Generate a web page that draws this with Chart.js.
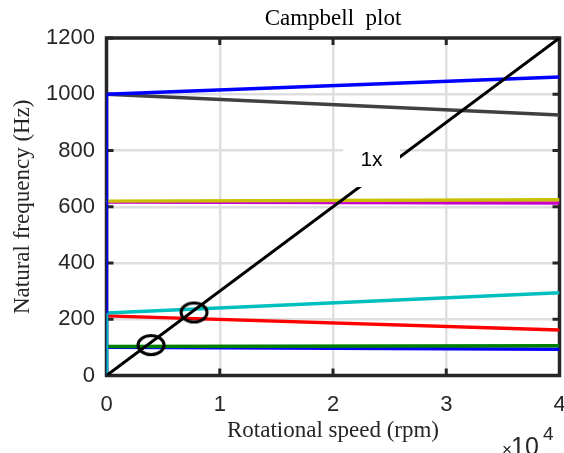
<!DOCTYPE html>
<html>
<head>
<meta charset="utf-8">
<script src="https://cdn.jsdelivr.net/npm/chart.js@4"></script>
<style>
  html, body { margin: 0; padding: 0; background: #fff; }
  canvas { display: block; }
</style>
</head>
<body>
<canvas id="campbell" width="564" height="453"></canvas>
<script>
// Speed sweep (rpm)
const speeds = [0, 40000];

// Whirl modes: natural frequency at start and end of the sweep (Hz)
const modeStart = [1000, 1000, 620, 617, 222, 212, 103, 100];
const modeEnd = [1061, 926, 625, 613, 294, 162, 106, 93];
const modeColors = ["#0000ff", "#404040", "#c8c000", "#cc00cc", "#00bfbf", "#ff0000", "#008000", "#0000ff"];

// Rise of the two lowest branches at standstill (Hz)
const zeroSpeedHigh = [0, 1000];
const zeroSpeedLow = [0, 222];

// 1x excitation line
const orderFreq = [0, 1200];
const orderLabel = "1x";
const orderLabelAt = [23400, 766];

// Crossings of the 1x line with the lowest modes
const critSpeed = [3930, 7730];
const critFreq = [108, 224];

const tickFont = { family: "Liberation Sans", size: 22 };
const titleFont = { family: "Liberation Serif", size: 23, weight: "normal" };
const inkColor = "#262626";

// open ellipse used as marker for the crossings
const ring = document.createElement("canvas");
ring.width = 32;
ring.height = 26;
const rctx = ring.getContext("2d");
rctx.lineWidth = 3;
rctx.strokeStyle = "#000";
rctx.beginPath();
rctx.ellipse(16, 13, 13, 9.5, 0, 0, Math.PI * 2);
rctx.stroke();

function segment(xs, ys) {
  return xs.map((x, i) => ({ x: x, y: ys[i] }));
}

const datasets = [];

datasets.push({
  data: segment(critSpeed, critFreq),
  showLine: false,
  pointStyle: ring,
  pointRadius: 13
});

datasets.push({
  data: segment(speeds, orderFreq),
  borderColor: "#000",
  borderWidth: 3
});

datasets.push({
  data: segment([0, 0], zeroSpeedLow),
  borderColor: "#00bfbf",
  borderWidth: 3.5
});

datasets.push({
  data: segment([0, 0], zeroSpeedHigh),
  borderColor: "#0000ff",
  borderWidth: 3.5
});

modeStart.forEach((f0, i) => {
  datasets.push({
    data: segment(speeds, [f0, modeEnd[i]]),
    borderColor: modeColors[i],
    borderWidth: 3.5
  });
});

// box, inward ticks, 1x tag and the exponent under the x axis
const frame = {
  id: "frame",
  beforeDatasetsDraw(chart) {
    const { ctx, chartArea: a, scales: { x, y } } = chart;
    ctx.save();
    ctx.strokeStyle = inkColor;
    ctx.lineWidth = 3;
    ctx.beginPath();
    x.ticks.forEach(t => {
      const px = x.getPixelForValue(t.value);
      ctx.moveTo(px, a.bottom);
      ctx.lineTo(px, a.bottom - 7);
      ctx.moveTo(px, a.top);
      ctx.lineTo(px, a.top + 7);
    });
    y.ticks.forEach(t => {
      const py = y.getPixelForValue(t.value);
      ctx.moveTo(a.left, py);
      ctx.lineTo(a.left + 7, py);
      ctx.moveTo(a.right, py);
      ctx.lineTo(a.right - 7, py);
    });
    ctx.stroke();
    ctx.lineWidth = 3.5;
    ctx.strokeRect(a.left, a.top, a.right - a.left, a.bottom - a.top);
    ctx.restore();
  },
  afterDatasetsDraw(chart) {
    const { ctx, scales: { x, y } } = chart;
    const px = x.getPixelForValue(orderLabelAt[0]);
    const py = y.getPixelForValue(orderLabelAt[1]);
    ctx.save();
    ctx.fillStyle = "#fff";
    ctx.fillRect(px - 28.5, py - 27, 57, 54);
    ctx.fillStyle = "#000";
    ctx.font = "21px 'Liberation Sans'";
    ctx.textAlign = "center";
    ctx.textBaseline = "middle";
    ctx.fillText(orderLabel, px, py);

    ctx.fillStyle = inkColor;
    ctx.textAlign = "left";
    ctx.textBaseline = "alphabetic";
    ctx.font = "17px 'Liberation Sans'";
    ctx.fillText("\u00d7", 502, 455);
    ctx.font = "25px 'Liberation Sans'";
    ctx.fillText("10", 511, 455);
    ctx.font = "19px 'Liberation Sans'";
    ctx.fillText("4", 543, 440);
    ctx.restore();
  }
};

new Chart(document.getElementById("campbell"), {
  type: "line",
  data: { datasets: datasets },
  options: {
    responsive: false,
    animation: false,
    events: [],
    elements: { point: { radius: 0 }, line: { tension: 0 } },
    layout: { autoPadding: false, padding: { left: 0, right: 4.5, top: 0, bottom: 0 } },
    plugins: {
      legend: { display: false },
      tooltip: { enabled: false },
      title: {
        display: true,
        text: "Campbell  plot",
        fullSize: false,
        color: "#000",
        font: titleFont,
        padding: { top: 5, bottom: 5.4 }
      }
    },
    scales: {
      x: {
        type: "linear",
        min: 0,
        max: 40000,
        ticks: {
          stepSize: 10000,
          autoSkip: false,
          maxRotation: 0,
          padding: 16,
          color: inkColor,
          font: tickFont,
          callback: v => String(v / 10000)
        },
        grid: { color: "#dfdfdf", lineWidth: 2.5, drawTicks: false },
        border: { display: false },
        title: {
          display: true,
          text: "Rotational speed (rpm)",
          color: inkColor,
          font: titleFont,
          padding: { top: 0, bottom: 7.8 }
        },
        afterFit(s) {
          s.height = 77.5;
          s.paddingLeft = 0;
          s.paddingRight = 0;
        }
      },
      y: {
        min: 0,
        max: 1200,
        ticks: {
          stepSize: 200,
          autoSkip: false,
          padding: 11.5,
          color: inkColor,
          font: tickFont,
          callback: v => String(v)
        },
        grid: { color: "#dfdfdf", lineWidth: 2.5, drawTicks: false },
        border: { display: false },
        title: {
          display: true,
          text: "Natural frequency (Hz)",
          color: inkColor,
          font: titleFont,
          padding: { top: 9.2, bottom: 0 }
        },
        afterFit(s) {
          s.width = 106.5;
        }
      }
    }
  },
  plugins: [frame]
});
</script>
</body>
</html>
